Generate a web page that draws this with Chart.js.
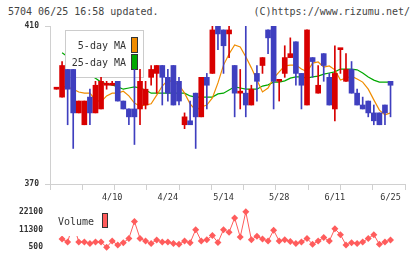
<!DOCTYPE html>
<html><head><meta charset="utf-8">
<script src="https://cdn.jsdelivr.net/npm/chart.js@4.4.1/dist/chart.umd.min.js"></script>
<style>
html,body{margin:0;padding:0;background:#fff;width:420px;height:259px;overflow:hidden;}
#wrap{position:relative;width:420px;height:259px;}
.hdr{position:absolute;top:5px;font:10px "DejaVu Sans Mono",monospace;color:#444;line-height:14px;white-space:nowrap;}
canvas{position:absolute;left:0;}
</style></head><body>
<div id="wrap">
<div class="hdr" style="left:8px">5704 06/25 16:58 updated.</div>
<div class="hdr" style="right:10px">(C)https://www.rizumu.net/</div>
<canvas id="price" width="420" height="204" style="top:0"></canvas>
<canvas id="vol" width="420" height="59" style="top:200px"></canvas>
</div>
<script>
// ---- data ----
const tickDays   = [10, 20, 30, 40, 50, 60];
const tickLabels = ['4/10', '4/24', '5/14', '5/28', '6/11', '6/25'];
const priceTicks  = [370, 410];
const volumeTicks = [500, 11300, 22100];

const open  = [394,392,399,399,388,385,392,388,389,395,395,396,391,389,389,389,390,397,398,400,397,400,396,385,386,393,387,397,398,412,409,408,400,393,393,390,398,400,409,411,396,398,402,406,398,390,402,393,403,397,389,404,396,399,393,390,391,388,388,390,396];
const high  = [394,401,399,399,391,391,394,396,397,396,396,396,391,389,399,399,396,400,400,400,399,400,397,388,391,393,397,398,411,413,409,411,400,399,411,395,400,402,409,412,396,405,407,406,398,409,402,400,403,398,405,404,403,401,394,392,391,390,388,390,396];
const low   = [394,392,385,379,388,385,385,388,389,394,395,391,389,385,380,385,389,395,393,390,391,390,390,384,385,379,387,389,398,404,398,402,387,389,387,390,391,398,403,389,391,397,402,395,389,390,397,393,396,390,386,398,396,393,390,389,387,385,385,385,387];
const close = [394,400,394,388,391,391,388,395,396,395,395,391,389,387,387,396,394,399,400,397,393,390,391,387,385,387,397,395,409,408,405,409,393,393,390,394,396,402,407,396,396,402,403,398,395,409,401,395,400,390,398,404,399,393,390,389,388,386,385,388,395];

const ma5  = [null,394.6,394.6,394.0,393.3,393.0,393.0,391.3,390.8,392.3,393.0,393.0,393.5,392.3,390.5,389.7,390.0,390.3,392.5,394.8,396.3,395.8,395.1,393.0,390.3,388.7,389.5,390.0,391.8,395.6,400.1,402.9,405.2,404.7,402.2,399.4,396.3,393.3,394.3,396.8,398.4,399.9,400.1,400.1,399.1,398.4,400.6,400.9,399.6,399.9,398.9,396.3,396.8,397.3,396.6,395.8,394.0,391.3,388.7,387.5,388.0];
const ma25 = [null,403.2,402.2,400.9,399.6,398.6,397.6,396.8,395.8,395.3,395.1,394.6,394.0,394.3,394.6,394.3,393.8,393.0,393.0,393.0,393.0,393.0,393.0,393.0,392.3,392.0,392.0,392.0,392.0,392.8,393.0,393.8,394.6,394.3,394.0,394.0,394.0,394.8,395.1,395.8,395.8,396.1,396.8,397.1,397.1,396.8,397.1,397.3,397.8,398.1,398.4,399.1,399.1,399.1,398.9,398.1,397.1,396.3,395.8,395.8,395.8];

const volume = [null,5500,3700,15000,3700,3700,2800,3700,3700,500,4250,1900,3200,5860,16200,5860,4250,2800,4950,3700,3700,2800,2270,4250,3200,11200,4250,5100,7630,3340,11200,9600,18350,6720,22100,5100,7250,5480,4250,10850,4250,5100,4040,2800,3700,5860,2270,4250,6400,4250,11760,8160,1900,3200,2800,3700,5860,8160,2270,3700,4950];

// ---- styles ----
const RED = '#d80000', BLUE = '#3f3fbf', ORANGE = '#f08c00', GREEN = '#00a800', VOLC = '#ff5c5c';
const AXC = '#d0d0d0';
const MONO = '"DejaVu Sans Mono", monospace';
const XMIN = -1.17, XMAX = 62.6;

const candleColor = ctx => close[ctx.dataIndex] >= open[ctx.dataIndex] ? RED : BLUE;
const pts = arr => arr.map((v, i) => ({x: i, y: v}));

const maLegend = {
  id: 'maLegend',
  beforeDatasetDraw(chart, args) {
    if (args.index !== 2) return;
    const c = chart.ctx;
    c.save();
    c.fillStyle = '#fff';
    c.fillRect(65, 30, 78, 47);
    c.strokeStyle = '#cccccc'; c.lineWidth = 1;
    c.strokeRect(65.5, 30.5, 78, 47);
    c.font = '10px ' + MONO; c.fillStyle = '#333';
    c.textAlign = 'right'; c.textBaseline = 'middle';
    c.fillText(chart.data.datasets[0].label, 126, 46);
    c.fillText(chart.data.datasets[1].label, 126, 63);
    c.strokeStyle = '#333';
    c.fillStyle = ORANGE; c.fillRect(131, 37, 7, 16); c.strokeRect(131.5, 37.5, 6, 15);
    c.fillStyle = GREEN;  c.fillRect(131, 54, 7, 16); c.strokeRect(131.5, 54.5, 6, 15);
    c.restore();
  }
};

new Chart(document.getElementById('price'), {
  data: {
    datasets: [
      {type: 'line', label: '5-day MA', data: pts(ma5), xAxisID: 'x', yAxisID: 'y', borderColor: ORANGE, borderWidth: 1.2, pointRadius: 0, tension: 0, order: 3},
      {type: 'line', label: '25-day MA', data: pts(ma25), xAxisID: 'x', yAxisID: 'y', borderColor: GREEN, borderWidth: 1.2, pointRadius: 0, tension: 0, order: 3},
      {type: 'bar', label: 'range', data: low.map((l, i) => ({x: i, y: [l, high[i]]})), xAxisID: 'x', yAxisID: 'y', backgroundColor: candleColor,
       barThickness: 1, grouped: false, order: 2, clip: 0, borderWidth: 0},
      {type: 'bar', label: 'body', data: open.map((o, i) => ({x: i, y: [o, close[i]]})), xAxisID: 'x', yAxisID: 'y', backgroundColor: candleColor,
       barThickness: 5, minBarLength: 2, grouped: false, order: 1, clip: 0, borderWidth: 0}
    ]
  },
  options: {
    responsive: false, animation: false, devicePixelRatio: 1,
    layout: {padding: {top: 26, right: 15, left: 0, bottom: 0}},
    plugins: {legend: {display: false}, tooltip: {enabled: false}},
    scales: {
      xm: {type: 'linear', position: 'bottom', min: 0, max: 11, weight: 0, offset: false,
           ticks: {display: false, stepSize: 1},
           grid: {drawOnChartArea: false, drawTicks: true, tickLength: 6, color: AXC, offset: false},
           border: {display: true, color: AXC},
           afterFit(a) { a.height = 7; }},
      x: {type: 'linear', position: 'bottom', min: XMIN, max: XMAX, weight: 1, offset: false,
          afterBuildTicks(a) { a.ticks = tickDays.map(v => ({value: v})); },
          ticks: {callback: v => tickLabels[tickDays.indexOf(v)], font: {family: MONO, size: 8.5}, color: '#333',
                  padding: 2, maxRotation: 0, autoSkip: false},
          grid: {display: false, drawTicks: false, offset: false}, border: {display: false},
          afterFit(a) { a.height = 13; }},
      y: {type: 'linear', min: 370, max: 410,
          afterBuildTicks(a) { a.ticks = priceTicks.map(v => ({value: v})); },
          ticks: {callback: v => String(v), font: {family: MONO, size: 8, weight: 'bold'}, color: '#333', padding: 6},
          grid: {drawOnChartArea: false, tickLength: 5, color: AXC},
          border: {color: AXC},
          afterFit(a) { a.width = 50; }}
    }
  },
  plugins: [maLegend]
});

const volLegend = {
  id: 'volLegend',
  afterDatasetsDraw(chart) {
    const c = chart.ctx;
    c.save();
    c.fillStyle = '#fff';
    c.fillRect(55, 7, 58, 29);
    c.font = '10px ' + MONO; c.fillStyle = '#333';
    c.textAlign = 'left'; c.textBaseline = 'middle';
    c.fillText(chart.data.datasets[0].label, 58, 22);
    c.fillStyle = VOLC; c.fillRect(102, 13, 6, 15);
    c.strokeStyle = '#333'; c.lineWidth = 1; c.strokeRect(102.5, 13.5, 5, 14);
    c.restore();
  }
};

new Chart(document.getElementById('vol'), {
  type: 'line',
  data: {datasets: [{label: 'Volume', data: pts(volume), xAxisID: 'x', yAxisID: 'y', borderColor: VOLC, backgroundColor: VOLC, borderWidth: 1,
    pointStyle: 'rectRot', pointRadius: 3.5, pointBorderWidth: 0, pointBackgroundColor: VOLC, tension: 0, clip: false}]},
  options: {
    responsive: false, animation: false, devicePixelRatio: 1,
    layout: {padding: {top: 9, right: 15, bottom: 10, left: 0}},
    plugins: {legend: {display: false}, tooltip: {enabled: false}},
    scales: {
      x: {type: 'linear', min: XMIN, max: XMAX, display: false, offset: false},
      y: {min: 500, max: 22100,
          afterBuildTicks(a) { a.ticks = volumeTicks.map(v => ({value: v})); },
          ticks: {callback: v => String(v), font: {family: MONO, size: 8, weight: 'bold'}, color: '#333', padding: 7},
          grid: {display: false, drawTicks: false}, border: {display: false},
          afterFit(a) { a.width = 50; }}
    }
  },
  plugins: [volLegend]
});
</script>
</body></html>
